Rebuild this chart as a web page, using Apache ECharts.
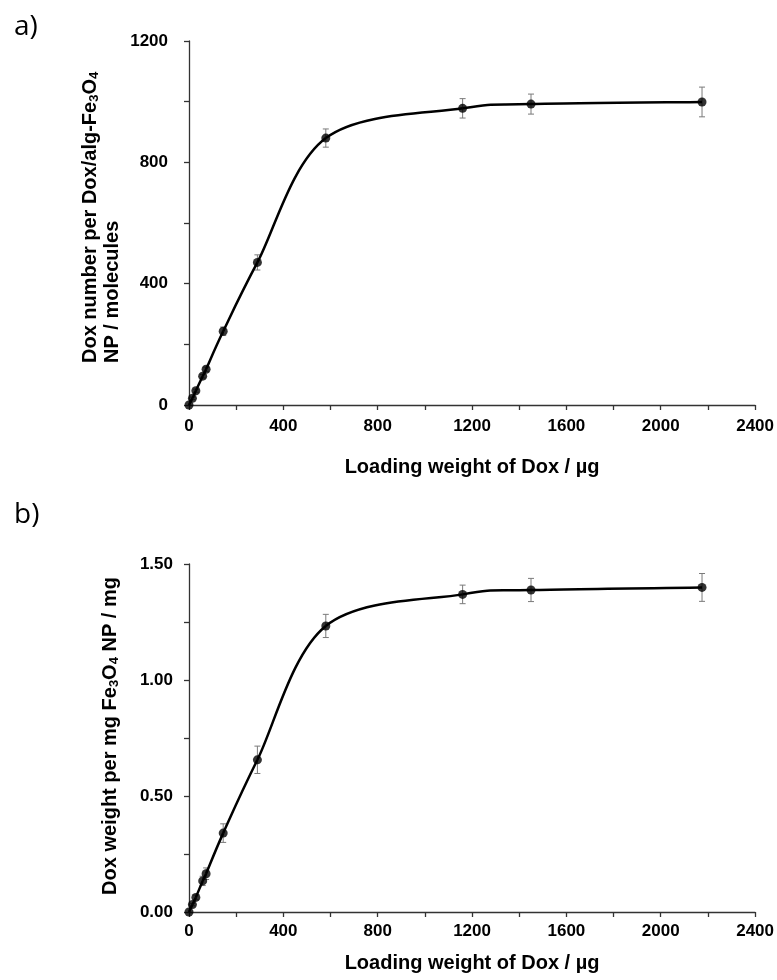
<!DOCTYPE html>
<html><head><meta charset="utf-8">
<script src="https://cdn.jsdelivr.net/npm/echarts@6/dist/echarts.min.js"></script>
<style>html,body{margin:0;padding:0;background:#fff}#c{width:777px;height:980px}</style>
</head><body><div id="c"></div>
<script>
// ---- data ----
const loadWeight   = [0, 14.5, 29, 58, 72.5, 145, 290, 580, 1160, 1450, 2175];
const doxNumber    = [0, 22, 47, 95, 118, 243, 470, 880, 978, 992, 999];
const doxNumberErr = [0, 4, 5, 6, 7, 14, 25, 30, 32, 33, 49];
const doxWeight    = [0, 0.032, 0.063, 0.134, 0.165, 0.34, 0.656, 1.233, 1.369, 1.388, 1.399];
const doxWeightErr = [0, 0.005, 0.01, 0.02, 0.025, 0.04, 0.059, 0.05, 0.04, 0.05, 0.06];
const xTickLabels  = [0, 400, 800, 1200, 1600, 2000, 2400];
const yTickLabelsA = [0, 400, 800, 1200];
const yTickLabelsB = [0, 0.5, 1.0, 1.5];

const FONT = '"Liberation Sans", Arial, sans-serif';
const chart = echarts.init(document.getElementById('c'), null, {renderer: 'canvas'});

function near(list, v) { return list.some(t => Math.abs(t - v) < 1e-9); }

function xAxisCfg(gridIndex, labelMargin, nameGap) {
  return {
    type: 'value', gridIndex, min: 0, max: 2400, interval: 200,
    name: 'Loading weight of Dox / µg', nameLocation: 'middle', nameGap,
    nameTextStyle: {fontFamily: FONT, fontWeight: 'bold', fontSize: 20, color: '#000'},
    axisLine: {show: true, onZero: false, lineStyle: {color: '#333', width: 1.3}},
    axisTick: {show: true, length: 5, lineStyle: {color: '#333', width: 1.3}},
    splitLine: {show: false},
    axisLabel: {fontFamily: FONT, fontWeight: 'bold', fontSize: 17, color: '#000', margin: labelMargin,
      formatter: v => near(xTickLabels, v) ? String(v) : ''}
  };
}
function yAxisCfg(gridIndex, max, interval, labels, fmt, labelMargin) {
  return {
    type: 'value', gridIndex, min: 0, max, interval,
    axisLine: {show: true, lineStyle: {color: '#333', width: 1.3}},
    axisTick: {show: true, length: 5, lineStyle: {color: '#333', width: 1.3}},
    splitLine: {show: false},
    axisLabel: {fontFamily: FONT, fontWeight: 'bold', fontSize: 17, color: '#000', margin: labelMargin,
      formatter: v => near(labels, v) ? fmt(v) : ''}
  };
}

function curveSeries(idx, ys) {
  const pts = loadWeight.map((x, i) => [x, ys[i]]);
  return {
    type: 'custom', xAxisIndex: idx, yAxisIndex: idx, data: pts, clip: false, silent: true, z: 2,
    renderItem: function (params, api) {
      const i = params.dataIndex, n = pts.length;
      if (i >= n - 1) return null;
      const P = k => api.coord(pts[Math.max(0, Math.min(n - 1, k))]);
      const p0 = P(i - 1), p1 = P(i), p2 = P(i + 1), p3 = P(i + 2);
      const t = 1 / 6;
      return {
        type: 'bezierCurve',
        shape: {
          x1: p1[0], y1: p1[1], x2: p2[0], y2: p2[1],
          cpx1: p1[0] + (p2[0] - p0[0]) * t, cpy1: p1[1] + (p2[1] - p0[1]) * t,
          cpx2: p2[0] - (p3[0] - p1[0]) * t, cpy2: p2[1] - (p3[1] - p1[1]) * t
        },
        style: {stroke: '#000', lineWidth: 2.5, fill: null}
      };
    }
  };
}

function errSeries(idx, ys, errs) {
  return {
    type: 'custom', xAxisIndex: idx, yAxisIndex: idx, clip: false, silent: true, z: 1,
    data: loadWeight.map((x, i) => [x, ys[i], errs[i]]),
    encode: {x: 0, y: 1},
    renderItem: function (params, api) {
      const x = api.value(0), y = api.value(1), e = api.value(2);
      if (!e) return null;
      const top = api.coord([x, y + e]), bot = api.coord([x, y - e]);
      const w = 3;
      const st = {stroke: '#7a7a7a', lineWidth: 1};
      return {type: 'group', children: [
        {type: 'line', shape: {x1: top[0], y1: top[1], x2: bot[0], y2: bot[1]}, style: st},
        {type: 'line', shape: {x1: top[0] - w, y1: top[1], x2: top[0] + w, y2: top[1]}, style: st},
        {type: 'line', shape: {x1: bot[0] - w, y1: bot[1], x2: bot[0] + w, y2: bot[1]}, style: st}
      ]};
    }
  };
}

function pointSeries(idx, ys) {
  return {
    type: 'scatter', xAxisIndex: idx, yAxisIndex: idx, symbol: 'circle', symbolSize: 9,
    itemStyle: {color: '#000'}, clip: false, z: 3, silent: true,
    data: loadWeight.map((x, i) => [x, ys[i]])
  };
}

const titleA = '{t|Dox number per Dox/alg-Fe}{s|3}{t|O}{s|4}\n{t|NP / molecules}';
const titleB = '{t|Dox weight per mg Fe}{s|3}{t|O}{s|4}{t| NP / mg}';
const rich = {
  t: {fontFamily: FONT, fontWeight: 'bold', fontSize: 20, lineHeight: 22, fill: '#000'},
  s: {fontFamily: FONT, fontWeight: 'bold', fontSize: 13, verticalAlign: 'bottom', fill: '#000'}
};

chart.setOption({
  animation: false,
  backgroundColor: '#fff',
  grid: [
    {left: 189, top: 41, width: 566.7, height: 364},
    {left: 189, top: 564, width: 566.7, height: 348}
  ],
  xAxis: [xAxisCfg(0, 13, 52), xAxisCfg(1, 11, 41)],
  yAxis: [
    yAxisCfg(0, 1200, 200, yTickLabelsA, v => String(v), 21),
    yAxisCfg(1, 1.5, 0.25, yTickLabelsB, v => v.toFixed(2), 16)
  ],
  graphic: [
    {type: 'text', x: 14, y: 27, style: {text: 'a)', font: '28px "Open Sans", sans-serif', fill: '#000', verticalAlign: 'middle'}},
    {type: 'text', x: 14, y: 515, style: {text: 'b)', font: '28px "Open Sans", sans-serif', fill: '#000', verticalAlign: 'middle'}},
    {type: 'text', x: 101, y: 363, rotation: Math.PI / 2,
      style: {text: titleA, rich, align: 'left', verticalAlign: 'middle', fill: '#000'}},
    {type: 'text', x: 110, y: 736, rotation: Math.PI / 2,
      style: {text: titleB, rich, align: 'center', verticalAlign: 'middle', fill: '#000'}}
  ],
  series: [
    errSeries(0, doxNumber, doxNumberErr), curveSeries(0, doxNumber), pointSeries(0, doxNumber),
    errSeries(1, doxWeight, doxWeightErr), curveSeries(1, doxWeight), pointSeries(1, doxWeight)
  ]
});
</script></body></html>
